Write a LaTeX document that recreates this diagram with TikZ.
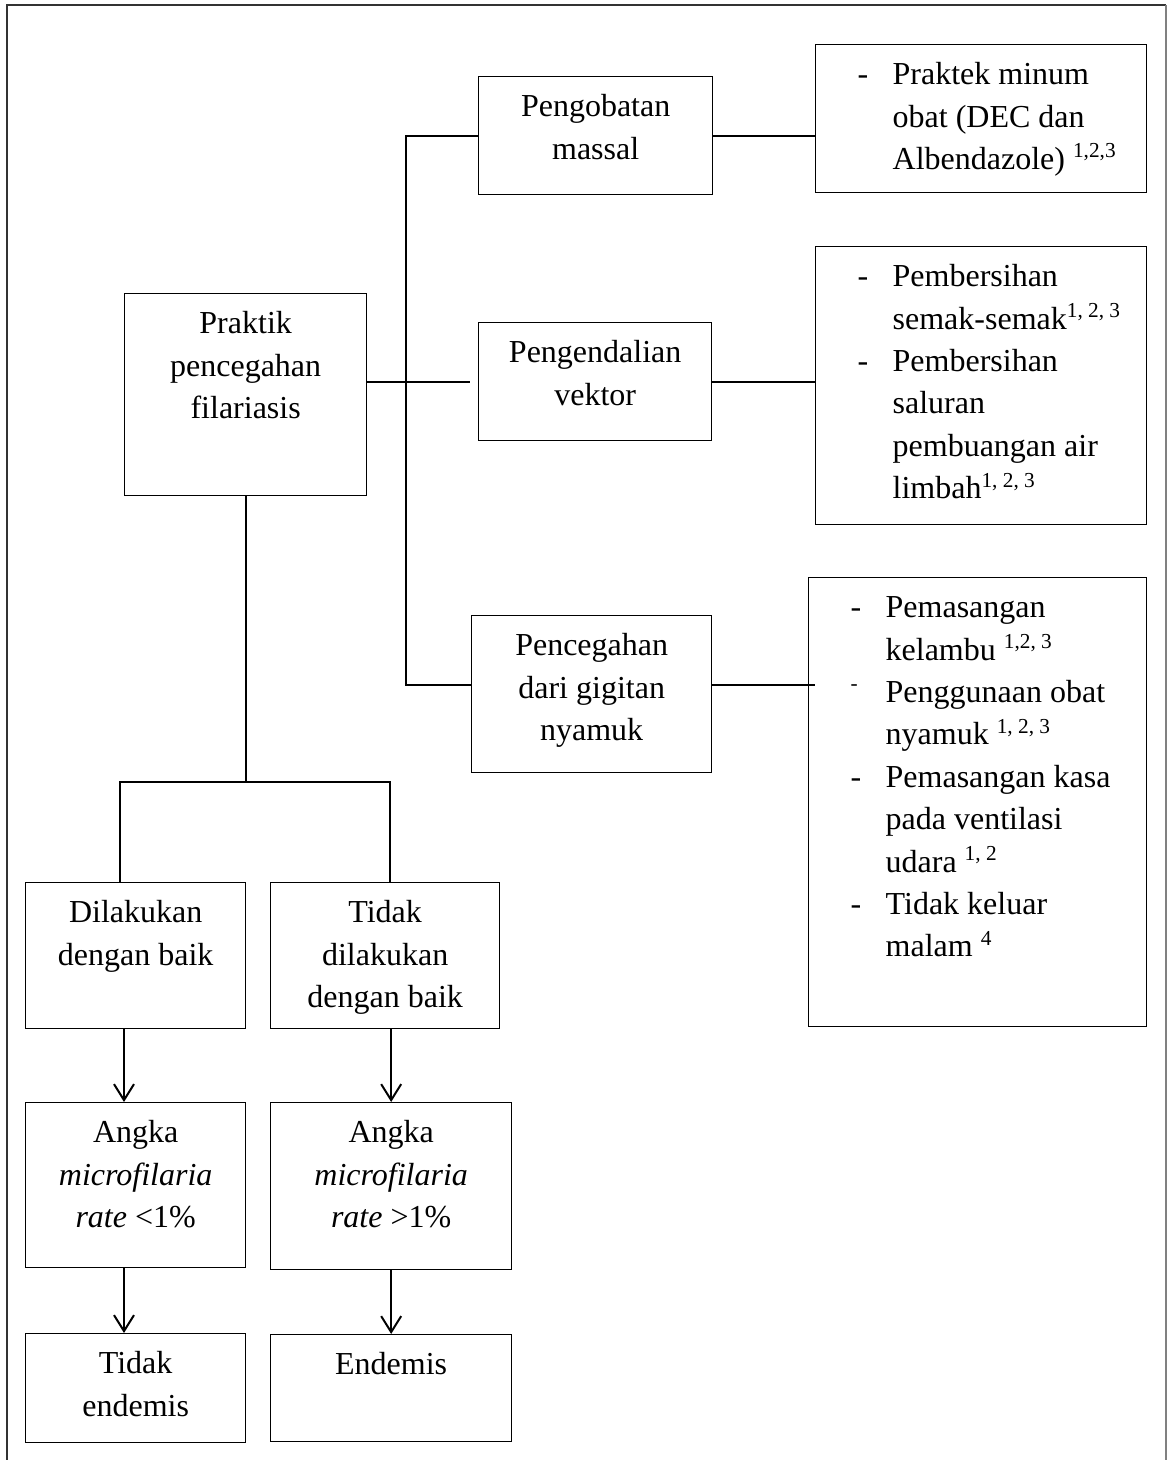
\documentclass[tikz,border=0pt]{standalone}
\usepackage{fontspec}
\setmainfont{Liberation Serif}
\usetikzlibrary{arrows.meta}
\newlength{\satuan}
\setlength{\satuan}{0.375pt}
\newcommand{\isi}[3]{\parbox[c][#2\satuan][t]{#1\satuan}{\centering\rule{0pt}{15pt}#3}}
\newcommand{\isikiri}[3]{\parbox[c][#2\satuan][t]{#1\satuan}{\raggedright\rule{0pt}{15pt}#3}}
\newcommand{\butir}[1]{\hspace*{42\satuan}\makebox[35\satuan][l]{-}#1}
\newcommand{\butirb}[1]{\hspace*{42\satuan}\makebox[35\satuan][l]{\textsuperscript{-}}#1}
\newcommand{\lanjut}[1]{\hspace*{77\satuan}#1}
\tikzset{
  kotak/.style={draw, line width=0.5pt, inner sep=0pt, anchor=north west, font=\fontsize{12}{15.9}\selectfont},
  garis/.style={line width=0.75pt},
  panah/.style={line width=0.75pt, -{Straight Barb[length=6pt,width=7.5pt]}}
}
\begin{document}
\begin{tikzpicture}[x=0.375pt, y=-0.375pt]
\useasboundingbox (0,0) rectangle (1167,1460);
% bingkai
\draw[line width=0.8pt, black!80] (7,1460) -- (7,5) -- (1166,5);
\draw[gray] (1166,5) -- (1166,1460);
% kotak
\node[kotak] (pp) at (124,293) {\isi{242}{202}{Praktik\\ pencegahan\\ filariasis}};
\node[kotak] (pm) at (478,76) {\isi{234}{118}{Pengobatan\\ massal}};
\node[kotak] (pv) at (478,322) {\isi{233}{118}{Pengendalian\\ vektor}};
\node[kotak] (pg) at (471,615) {\isi{240}{157}{Pencegahan\\ dari gigitan\\ nyamuk}};
\node[kotak] (r1) at (815,44) {\isikiri{331}{148}{\butir{Praktek minum}\\ \lanjut{obat (DEC dan}\\ \lanjut{Albendazole) \textsuperscript{1,2,3}}}};
\node[kotak] (r2) at (815,246) {\isikiri{331}{278}{\butir{Pembersihan}\\ \lanjut{semak-semak\textsuperscript{1, 2, 3}}\\ \butir{Pembersihan}\\ \lanjut{saluran}\\ \lanjut{pembuangan air}\\ \lanjut{limbah\textsuperscript{1, 2, 3}}}};
\node[kotak] (r3) at (808,577) {\isikiri{338}{449}{\butir{Pemasangan}\\ \lanjut{kelambu \textsuperscript{1,2, 3}}\\ \butirb{Penggunaan obat}\\ \lanjut{nyamuk \textsuperscript{1, 2, 3}}\\ \butir{Pemasangan kasa}\\ \lanjut{pada ventilasi}\\ \lanjut{udara \textsuperscript{1, 2}}\\ \butir{Tidak keluar}\\ \lanjut{malam \textsuperscript{4}}}};
\node[kotak] (db) at (25,882) {\isi{220}{146}{Dilakukan\\ dengan baik}};
\node[kotak] (td) at (270,882) {\isi{229}{146}{Tidak\\ dilakukan\\ dengan baik}};
\node[kotak] (a1) at (25,1102) {\isi{220}{165}{Angka\\ \textit{microfilaria}\\ \textit{rate} <1\%}};
\node[kotak] (a2) at (270,1102) {\isi{241}{167}{Angka\\ \textit{microfilaria}\\ \textit{rate} >1\%}};
\node[kotak] (te) at (25,1333) {\isi{220}{109}{Tidak\\ endemis}};
\node[kotak] (en) at (270,1334) {\isi{241}{107}{Endemis}};
% garis
\coordinate (ujung) at (406,685);
\draw[garis] (pm.west) -| (ujung) -- (ujung -| pg.west);
\draw[garis, shorten >=3pt] (pp.east |- pv.west) -- (pv.west);
\draw[garis] (pm.east) -- (pm.east -| r1.west);
\draw[garis] (pv.east) -- (pv.east -| r2.west);
\draw[garis, shorten >=-2.5pt] (pg.east |- ujung) -- (ujung -| r3.west);
\coordinate (cab) at (245,782);
\coordinate (kiri) at (120,782);
\coordinate (kanan) at (390,782);
\draw[garis] (pp.south) -- (pp.south |- cab);
\draw[garis] (kiri |- db.north) -- (kiri) -- (kanan) -- (kanan |- td.north);
\coordinate (p1) at (124,0);
\draw[panah] (p1 |- db.south) -- (p1 |- a1.north);
\draw[panah] (a2.north |- td.south) -- (a2.north);
\draw[panah] (p1 |- a1.south) -- (p1 |- te.north);
\draw[panah] (en.north |- a2.south) -- (en.north);
\end{tikzpicture}
\end{document}
